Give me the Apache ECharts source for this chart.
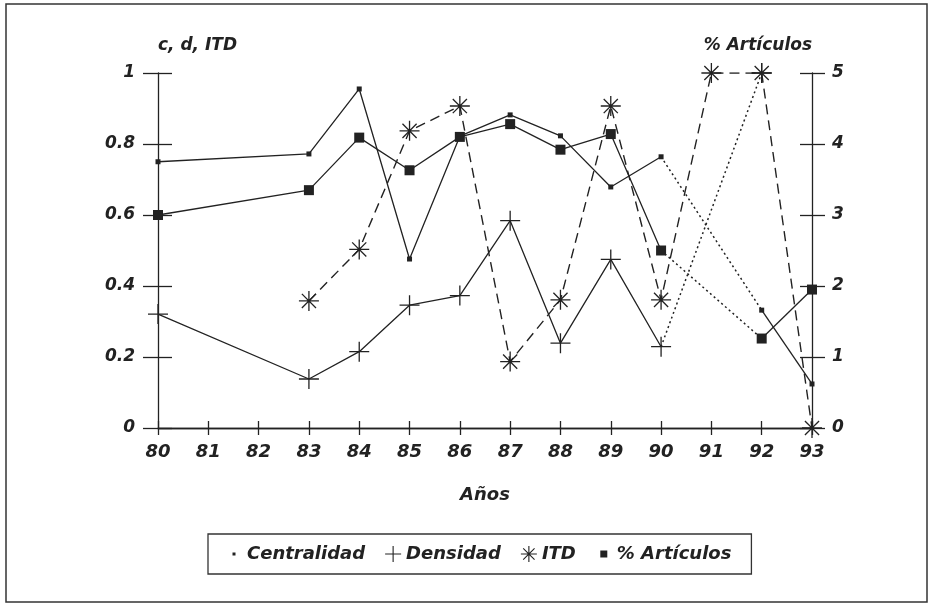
<!DOCTYPE html>
<html><head><meta charset="utf-8">
<script src="https://cdn.jsdelivr.net/npm/echarts@6/dist/echarts.min.js"></script>
<style>html,body{margin:0;padding:0;background:#fff}#c{width:935px;height:606px}</style>
</head><body><div id="c"></div>
<script>
// ---- data ----
const years = ['80','81','82','83','84','85','86','87','88','89','90','91','92','93'];
const centralidad = [0.75, null, null, 0.772, 0.955, 0.476, 0.822, 0.882, 0.823, 0.679, 0.764, null, 0.332, 0.124];
const densidad    = [0.321, null, null, 0.138, 0.215, 0.346, 0.373, 0.584, 0.239, 0.475, 0.229, null, 1.0, null];
const itd         = [null, null, null, 0.358, 0.503, 0.837, 0.907, 0.187, 0.361, 0.907, 0.361, 1.0, 1.0, 0];
const articulos   = [3.0, null, null, 3.35, 4.09, 3.63, 4.1, 4.28, 3.92, 4.14, 2.5, null, 1.26, 1.95];
const seriesNames = ['Centralidad', 'Densidad', 'ITD', '% Artículos'];
const leftAxisTitle = 'c, d, ITD';
const rightAxisTitle = '% Artículos';
const xAxisTitle = 'Años';

// ---- helpers ----
function part(arr, lo, hi) { return arr.map((v, i) => (i >= lo && i <= hi) ? v : null); }
function bridge(arr, a, b) { return arr.map((v, i) => (i === a || i === b) ? v : null); }
function starPath(r, t) {
  const c = r, h = t / 2; let p = '';
  [0, 45, 90, 135].forEach(a => {
    const rad = a * Math.PI / 180, dx = Math.cos(rad), dy = Math.sin(rad), nx = -dy, ny = dx;
    const pts = [[c + r*dx + h*nx, c + r*dy + h*ny],[c - r*dx + h*nx, c - r*dy + h*ny],
                 [c - r*dx - h*nx, c - r*dy - h*ny],[c + r*dx - h*nx, c + r*dy - h*ny]];
    p += 'M' + pts.map(q => q[0].toFixed(2) + ',' + q[1].toFixed(2)).join('L') + 'Z';
  });
  return 'path://' + p;
}
function plusPath(r, t) {
  const h = t / 2;
  return 'path://M0,' + (r-h) + 'H' + (2*r) + 'V' + (r+h) + 'H0Z' +
         'M' + (r-h) + ',0H' + (r+h) + 'V' + (2*r) + 'H' + (r-h) + 'Z';
}
const STAR = starPath(10, 1.3);
const PLUS = plusPath(10, 1.3);
const ink = '#222';
const font = { fontFamily: 'DejaVu Sans', fontWeight: 'bold', fontStyle: 'italic', color: ink };

const solid = { color: ink, width: 1.3, type: 'solid' };
const dotted = { color: ink, width: 1.5, type: [2, 3] };
const dashed = { color: ink, width: 1.4, type: [10, 6] };

function line(name, data, opts) {
  return Object.assign({
    name, type: 'line', data, color: ink, connectNulls: false,
    lineStyle: solid, itemStyle: { color: ink }, z: 3, silent: true
  }, opts);
}

const series = [
  // Centralidad
  line(seriesNames[0], part(centralidad, 0, 10), { connectNulls: true, symbol: 'rect', symbolSize: 5 }),
  line(seriesNames[0], part(centralidad, 12, 13), { symbol: 'rect', symbolSize: 5 }),
  line(seriesNames[0], bridge(centralidad, 10, 12), { connectNulls: true, symbol: 'none', lineStyle: dotted }),
  // Densidad
  line(seriesNames[1], part(densidad, 0, 10), { connectNulls: true, symbol: PLUS, symbolSize: 20 }),
  line(seriesNames[1], part(densidad, 12, 13), { symbol: PLUS, symbolSize: 20 }),
  line(seriesNames[1], bridge(densidad, 10, 12), { connectNulls: true, symbol: 'none', lineStyle: dotted }),
  // ITD
  line(seriesNames[2], itd, { symbol: STAR, symbolSize: 20, lineStyle: dashed }),
  // % Artículos
  line(seriesNames[3], part(articulos, 0, 10), { yAxisIndex: 1, connectNulls: true, symbol: 'rect', symbolSize: 10 }),
  line(seriesNames[3], part(articulos, 12, 13), { yAxisIndex: 1, symbol: 'rect', symbolSize: 10 }),
  line(seriesNames[3], bridge(articulos, 10, 12), { yAxisIndex: 1, connectNulls: true, symbol: 'none', lineStyle: dotted })
];

const axLine = { show: true, lineStyle: { color: ink, width: 1.3 } };
const tickStyle = { color: ink, width: 1.3 };
const hiddenLbl = { show: false };

const option = {
  animation: false,
  backgroundColor: '#fff',
  grid: { left: 158, right: 123, top: 73, bottom: 178, containLabel: false },
  xAxis: [
    { type: 'category', data: years, boundaryGap: false, position: 'bottom',
      axisLine: axLine, axisTick: { show: true, inside: false, length: 7, lineStyle: tickStyle },
      axisLabel: Object.assign({ fontSize: 18, margin: 15, interval: 0 }, font),
      splitLine: { show: false },
      name: xAxisTitle, nameLocation: 'middle', nameGap: 58,
      nameTextStyle: Object.assign({ fontSize: 18 }, font) },
    { type: 'category', data: years, boundaryGap: false, position: 'bottom',
      axisLine: { show: false }, axisTick: { show: true, inside: true, length: 7, lineStyle: tickStyle },
      axisLabel: hiddenLbl, splitLine: { show: false } },
    { type: 'category', data: years, boundaryGap: false, position: 'top',
      axisLine: axLine, axisTick: { show: false }, axisLabel: hiddenLbl, splitLine: { show: false } }
  ],
  yAxis: [
    { type: 'value', min: 0, max: 1, interval: 0.2, position: 'left',
      axisLine: axLine, axisTick: { show: true, inside: false, length: 15, lineStyle: tickStyle },
      axisLabel: Object.assign({ fontSize: 17, margin: 23 }, font),
      splitLine: { show: false },
      name: leftAxisTitle, nameLocation: 'end', nameGap: 19,
      nameTextStyle: Object.assign({ fontSize: 17, align: 'left' }, font) },
    { type: 'value', min: 0, max: 5, interval: 1, position: 'right',
      axisLine: axLine, axisTick: { show: true, inside: false, length: 13, lineStyle: tickStyle },
      axisLabel: Object.assign({ fontSize: 17, margin: 20 }, font),
      splitLine: { show: false },
      name: rightAxisTitle, nameLocation: 'end', nameGap: 19,
      nameTextStyle: Object.assign({ fontSize: 17, align: 'right' }, font) },
    { type: 'value', min: 0, max: 1, interval: 0.2, position: 'left',
      axisLine: { show: false }, axisTick: { show: true, inside: true, length: 14, lineStyle: tickStyle },
      axisLabel: hiddenLbl, splitLine: { show: false } },
    { type: 'value', min: 0, max: 5, interval: 1, position: 'right',
      axisLine: { show: false }, axisTick: { show: true, inside: true, length: 12, lineStyle: tickStyle },
      axisLabel: hiddenLbl, splitLine: { show: false } }
  ],
  legend: {
    left: 208, top: 534,
    padding: [11, 20, 11, 18],
    borderColor: '#333', borderWidth: 1.3,
    itemGap: 20, itemWidth: 16, itemHeight: 16,
    selectedMode: false,
    textStyle: Object.assign({ fontSize: 18 }, font),
    data: [
      { name: seriesNames[0], icon: 'path://M0,0L0,0M16,16L16,16M6.5,6.5h3v3h-3z' },
      { name: seriesNames[1], icon: plusPath(8, 1.1) },
      { name: seriesNames[2], icon: starPath(8, 1.1) },
      { name: seriesNames[3], icon: 'path://M0,0L0,0M16,16L16,16M4.5,4.5h7v7h-7z' }
    ]
  },
  graphic: [
    { type: 'rect', shape: { x: 6, y: 4, width: 921, height: 598 },
      style: { fill: 'none', stroke: '#333', lineWidth: 1.5 }, silent: true, z: -1 }
  ],
  series
};

const chart = echarts.init(document.getElementById('c'), null, { renderer: 'canvas' });
chart.setOption(option);
</script>
</body></html>
